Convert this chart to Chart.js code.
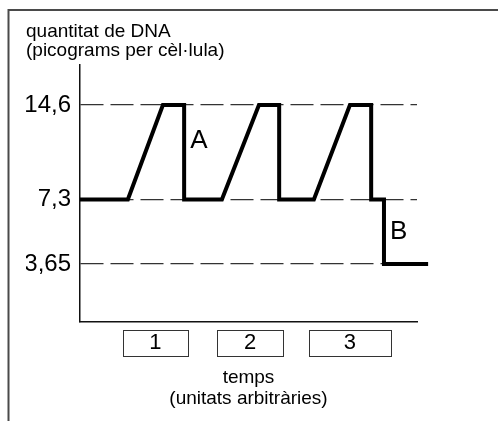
<!DOCTYPE html>
<html>
<head>
<meta charset="utf-8">
<script src="https://cdn.jsdelivr.net/npm/chart.js@4"></script>
<style>
  html, body { margin: 0; padding: 0; background: #fff; }
  #wrap { position: relative; width: 498px; height: 421px; }
  canvas { display: block; }
</style>
</head>
<body>
<div id="wrap"><canvas id="c" width="498" height="421"></canvas></div>
<script>
// ---- data ----
const timePoints = [0, 1.42, 2.46, 3.09, 3.09, 4.21, 5.31, 5.91, 5.91, 6.94, 8.01, 8.64, 8.64, 9.02, 9.02, 10.33];
const dnaAmount  = [7.3, 7.3, 14.6, 14.6, 7.3, 7.3, 14.6, 14.6, 7.3, 7.3, 14.6, 14.6, 7.3, 7.3, 3.65, 3.65];
const levelTicks = [3.65, 7.3, 14.6];
const levelTickLabels = ['3,65', '7,3', '14,6'];
const cycleLabels = ['1', '2', '3'];
const cycleStart = [1.28, 4.07, 6.79];
const cycleEnd   = [3.20, 6.02, 9.23];
const markLabels = ['A', 'B'];
const markTime   = [3.09, 9.02];
const markDna    = [11.8, 5.46];

// schematic (non-proportional) value axis: knots of value -> axis fraction
const axisKnotValues = [0, 3.65, 7.3, 14.6, 18];
const axisKnotFractions = [0, 0.2257, 0.4767, 0.8444, 1];

function toFraction(v) {
  for (let i = 1; i < axisKnotValues.length; i++) {
    if (v <= axisKnotValues[i] || i === axisKnotValues.length - 1) {
      const a = axisKnotValues[i - 1], b = axisKnotValues[i];
      const fa = axisKnotFractions[i - 1], fb = axisKnotFractions[i];
      return fa + (v - a) / (b - a) * (fb - fa);
    }
  }
  return 0;
}
function fromFraction(f) {
  for (let i = 1; i < axisKnotFractions.length; i++) {
    if (f <= axisKnotFractions[i] || i === axisKnotFractions.length - 1) {
      const a = axisKnotFractions[i - 1], b = axisKnotFractions[i];
      const va = axisKnotValues[i - 1], vb = axisKnotValues[i];
      return va + (f - a) / (b - a) * (vb - va);
    }
  }
  return 0;
}

class LevelScale extends Chart.LinearScale {
  buildTicks() {
    return levelTicks.map(v => ({ value: v }));
  }
  getPixelForValue(value) {
    if (value === null || value === undefined) return NaN;
    return this.getPixelForDecimal(toFraction(value));
  }
  getValueForPixel(pixel) {
    return fromFraction(this.getDecimalForPixel(pixel));
  }
}
LevelScale.id = 'level';
LevelScale.defaults = Chart.LinearScale.defaults;
Chart.register(LevelScale);

const FONT = "'Liberation Sans', Arial, Helvetica, sans-serif";

const framePlugin = {
  id: 'frame',
  beforeDraw(chart) {
    const ctx = chart.ctx;
    ctx.save();
    ctx.strokeStyle = '#4a4a4a';
    ctx.lineWidth = 2;
    ctx.beginPath();
    ctx.moveTo(8.5, 421);
    ctx.lineTo(8.5, 10);
    ctx.lineTo(498, 10);
    ctx.stroke();
    ctx.restore();
  }
};

const boxesPlugin = {
  id: 'cycleBoxes',
  afterDraw(chart) {
    const ctx = chart.ctx;
    const xs = chart.scales.x;
    const ys = chart.scales.y;
    const top = chart.chartArea.bottom + 7.5;
    ctx.save();
    ctx.strokeStyle = '#333';
    ctx.lineWidth = 1;
    for (let i = 0; i < cycleStart.length; i++) {
      const x1 = Math.round(xs.getPixelForValue(cycleStart[i])) + 0.5;
      const x2 = Math.round(xs.getPixelForValue(cycleEnd[i])) + 0.5;
      ctx.strokeRect(x1, Math.round(top) + 0.5, x2 - x1, 26);
    }
    ctx.fillStyle = '#000';
    ctx.font = '26px ' + FONT;
    ctx.textAlign = 'left';
    ctx.textBaseline = 'middle';
    for (let i = 0; i < markLabels.length; i++) {
      const x = xs.getPixelForValue(markTime[i]) + 6;
      const y = ys.getPixelForValue(markDna[i]);
      ctx.fillText(markLabels[i], x, y);
    }
    ctx.restore();
  }
};

new Chart(document.getElementById('c'), {
  type: 'line',
  data: {
    datasets: [{
      data: timePoints.map((t, i) => ({ x: t, y: dnaAmount[i] })),
      borderColor: '#000',
      borderWidth: 4,
      borderJoinStyle: 'miter',
      borderCapStyle: 'butt',
      pointRadius: 0,
      tension: 0,
      fill: false,
      clip: false
    }]
  },
  options: {
    responsive: false,
    animation: false,
    devicePixelRatio: 1,
    layout: { padding: { left: 26, right: 81, top: 0, bottom: 0 } },
    plugins: {
      legend: { display: false },
      tooltip: { enabled: false },
      title: {
        display: true,
        text: ['quantitat de DNA', '(picograms per cèl·lula)'],
        align: 'start',
        color: '#000',
        font: { family: FONT, size: 19, weight: 'normal', lineHeight: 1.0 },
        padding: { top: 22, bottom: 5 }
      }
    },
    scales: {
      x: {
        type: 'linear',
        min: 0,
        max: 10,
        afterFit(scale) { scale.height = 99; },
        afterBuildTicks(scale) {
          scale.ticks = cycleStart.map((s, i) => ({ value: (s + cycleEnd[i]) / 2 }));
        },
        ticks: {
          autoSkip: false,
          maxRotation: 0,
          color: '#000',
          padding: 8,
          font: { family: FONT, size: 22, lineHeight: 1.2 },
          callback(value, index) { return cycleLabels[index]; }
        },
        grid: { display: false, drawTicks: false },
        border: { display: true, color: '#111', width: 1.5 },
        title: {
          display: true,
          text: ['temps', '(unitats arbitràries)'],
          color: '#000',
          font: { family: FONT, size: 19, lineHeight: 1.1 },
          padding: { top: 0, bottom: 12 }
        }
      },
      y: {
        type: 'level',
        min: 0,
        max: 18,
        afterFit(scale) { scale.width = 54; },
        ticks: {
          color: '#000',
          padding: 9,
          font: { family: FONT, size: 24 },
          callback(value) { return levelTickLabels[levelTicks.indexOf(value)]; }
        },
        grid: { display: true, drawTicks: false, color: '#333', lineWidth: 1.2 },
        border: { display: true, color: '#111', width: 1.5, dash: [23, 7] }
      }
    }
  },
  plugins: [framePlugin, boxesPlugin]
});
</script>
</body>
</html>
